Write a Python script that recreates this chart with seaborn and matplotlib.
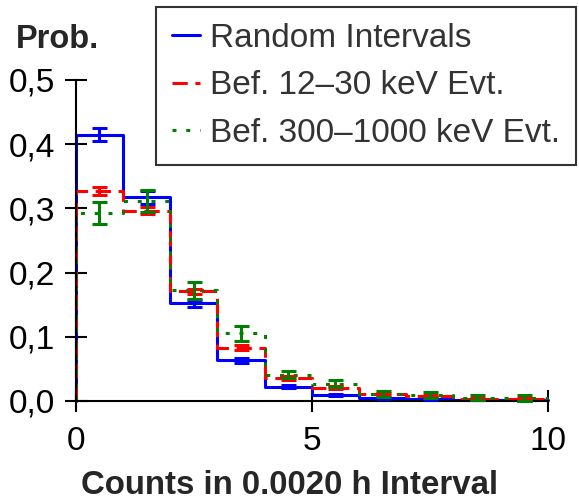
import numpy as np
import pandas as pd
import matplotlib
matplotlib.use("Agg")
import matplotlib.pyplot as plt
import seaborn as sns
from matplotlib.ticker import FuncFormatter

# ---- data ----
bin_edges = [0, 1, 2, 3, 4, 5, 6, 7, 8, 9, 10]
random_vals = [0.415, 0.317, 0.152, 0.0635, 0.0222, 0.0093, 0.004, 0.003, 0.0015, 0.001]
random_err = [0.0095, 0.0105, 0.005, 0.004, 0.002, 0.0015, 0.001, 0.001, 0.0008, 0.0006]
low_vals = [0.327, 0.296, 0.171, 0.0826, 0.036, 0.0206, 0.0104, 0.0077, 0.0031, 0.003]
low_err = [0.0065, 0.0055, 0.004, 0.004, 0.003, 0.002, 0.0015, 0.0012, 0.001, 0.001]
high_vals = [0.2925, 0.311, 0.172, 0.105, 0.041, 0.027, 0.0106, 0.0094, 0.005, 0.0046]
high_err = [0.017, 0.017, 0.013, 0.011, 0.005, 0.006, 0.005, 0.005, 0.004, 0.004]
series_names = ["Random Intervals", "Bef. 12\u201330 keV Evt.", "Bef. 300\u20131000 keV Evt."]
y_ticks = [0.0, 0.1, 0.2, 0.3, 0.4, 0.5]
x_ticks = [0, 5, 10]
x_label = "Counts in 0.0020 h Interval"
y_label = "Prob."

sns.set_style("ticks")
plt.rcParams['font.family'] = ['Liberation Sans', 'DejaVu Sans']

fig = plt.figure(figsize=(5.79, 5.03), dpi=100)
ax = fig.add_axes([0.131, 0.203, 0.815, 0.638])

colors = ["#0000ff", "#ff0000", "#008000"]
dash_styles = [None, (5.0, 2.5), (1.3, 3.2)]
values = [random_vals, low_vals, high_vals]
errors = [random_err, low_err, high_err]

centers = [(bin_edges[i] + bin_edges[i + 1]) / 2 for i in range(len(bin_edges) - 1)]
handles = []
for name, vals, errs, col, ds in zip(series_names, values, errors, colors, dash_styles):
    xs = [bin_edges[0]] + list(bin_edges)
    ys = [0.0] + list(vals) + [vals[-1]]
    df = pd.DataFrame({"x": xs, "y": ys})
    kw = dict(color=col, linewidth=2.2, drawstyle="steps-post")
    sns.lineplot(data=df, x="x", y="y", estimator=None, sort=False, ax=ax, **kw)
    line = ax.get_lines()[-1]
    if ds is not None:
        line.set_dashes(ds)
    ax.errorbar(centers, vals, yerr=errs, fmt="none", ecolor=col,
                elinewidth=2.2, capsize=5.4, capthick=2.2, zorder=3)
    h, = ax.plot([], [], color=col, linewidth=2.2)
    if ds is not None:
        h.set_dashes(ds)
    handles.append(h)

ax.set_xlim(0, 10)
ax.set_ylim(0, 0.5)
ax.set_xticks(x_ticks)
ax.set_yticks(y_ticks)
ax.yaxis.set_major_formatter(FuncFormatter(lambda v, p: f"{v:.1f}".replace(".", ",")))
ax.tick_params(direction="inout", length=16, width=1.5, labelsize=24, color="black",
               labelcolor="black")
ax.tick_params(axis="x", pad=10)
ax.tick_params(axis="y", pad=7)
for s in ["top", "right"]:
    ax.spines[s].set_visible(False)
for s in ["left", "bottom"]:
    ax.spines[s].set_linewidth(1.5)
    ax.spines[s].set_color("black")
ax.set_xlabel("")
ax.set_ylabel("")
for ln in ax.get_lines():
    ln.set_clip_on(False)

fig.text(0.5, 1 - 485 / 503, x_label, ha="center", va="center", fontsize=23.8, fontweight="bold")
fig.text(57 / 579, 1 - 40 / 503, y_label, ha="center", va="center", fontsize=23.5, fontweight="bold")

leg = fig.legend(handles, series_names, loc="upper right", bbox_to_anchor=(576 / 579, 1 - 7 / 503),
                 fontsize=24, frameon=True, fancybox=False, edgecolor="black",
                 handlelength=0.85, handletextpad=0.3, labelspacing=0.5, borderpad=0.47,
                 borderaxespad=0)
leg.get_frame().set_linewidth(1.5)
for t in leg.get_texts():
    t.set_color("#333333")

fig.savefig("out.png", dpi=100)
